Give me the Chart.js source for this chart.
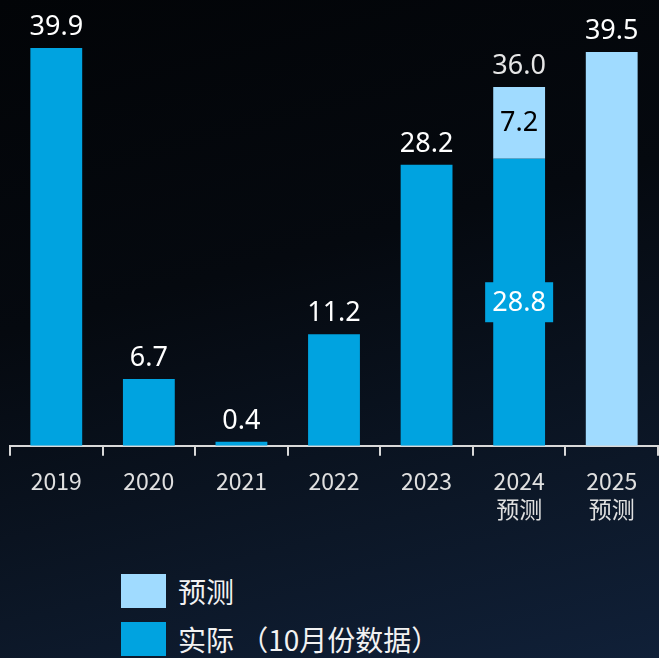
<!DOCTYPE html>
<html>
<head>
<meta charset="utf-8">
<script src="https://cdn.jsdelivr.net/npm/chart.js@4"></script>
<style>
  html, body { margin: 0; padding: 0; }
  body {
    width: 659px; height: 658px; overflow: hidden; position: relative;
    background: linear-gradient(165deg, #020407 0%, #05090f 40%, #0c1727 75%, #102038 100%);
    font-family: "Noto Sans CJK SC", "Noto Sans", sans-serif;
  }
  #wrap { position: absolute; left: 0; top: 0; width: 659px; height: 535px; }
  .legend { position: absolute; left: 121px; color: #f2f2f2; font-size: 28px; }
  .legend div { height: 48px; display: flex; align-items: center; }
  .legend span.box { display: inline-block; width: 45px; height: 34px; margin-right: 12px; }
</style>
</head>
<body>
<div id="wrap"><canvas id="chart"></canvas></div>
<div class="legend" style="top:567px">
  <div><span class="box" style="background:#a0dbff"></span>预测</div>
  <div><span class="box" style="background:#00a3e0"></span>实际 （10月份数据）</div>
</div>
<script>
const years = [['2019'], ['2020'], ['2021'], ['2022'], ['2023'], ['2024', '预测'], ['2025', '预测']];
const actual = [39.9, 6.7, 0.4, 11.2, 28.2, 28.8, null];
const forecast = [null, null, null, null, null, 7.2, 39.5];
const totals = ['39.9', '6.7', '0.4', '11.2', '28.2', '36.0', '39.5'];

const DARK = '#00a3e0', LIGHT = '#a0dbff';

const labelPlugin = {
  id: 'barLabels',
  afterDatasetsDraw(chart) {
    const ctx = chart.ctx;
    const a = chart.getDatasetMeta(0).data;
    const f = chart.getDatasetMeta(1).data;
    ctx.save();
    ctx.textAlign = 'center';
    ctx.font = '27px "Noto Sans", sans-serif';
    years.forEach((y, i) => {
      const hasA = actual[i] != null, hasF = forecast[i] != null;
      const top = hasF ? f[i] : a[i];
      // total above bar
      ctx.fillStyle = (hasA && hasF) ? '#e6e6e6' : '#ffffff';
      ctx.textBaseline = 'alphabetic';
      ctx.fillText(totals[i], top.x, top.y - 13);
      if (hasA && hasF) {
        // forecast segment value
        ctx.fillStyle = '#000000';
        ctx.textBaseline = 'middle';
        ctx.fillText(forecast[i].toFixed(1), f[i].x, (f[i].y + f[i].base) / 2 + 1);
        // actual segment value with box
        const cy = (a[i].y + a[i].base) / 2;
        ctx.fillStyle = DARK;
        ctx.fillRect(a[i].x - 34, cy - 20, 68, 40);
        ctx.fillStyle = '#ffffff';
        ctx.fillText(actual[i].toFixed(1), a[i].x, cy + 1);
      }
    });
    ctx.restore();
  }
};

new Chart(document.getElementById('chart'), {
  type: 'bar',
  data: {
    labels: years,
    datasets: [
      { label: '实际', data: actual, backgroundColor: DARK },
      { label: '预测', data: forecast, backgroundColor: LIGHT }
    ]
  },
  options: {
    responsive: true,
    maintainAspectRatio: false,
    animation: false,
    layout: { padding: { left: 10, right: 1, top: 47, bottom: 0 } },
    plugins: { legend: { display: false }, tooltip: { enabled: false } },
    datasets: { bar: { barPercentage: 0.56, categoryPercentage: 1 } },
    scales: {
      x: {
        stacked: true,
        grid: { display: true, drawOnChartArea: false, drawTicks: true, tickLength: 10, color: '#d9d9d9', lineWidth: 2, offset: true },
        border: { display: true, color: '#d9d9d9', width: 2 },
        ticks: { color: '#e0e0e0', font: { size: 23, family: '"Noto Sans CJK SC", sans-serif', lineHeight: 1.2 }, padding: 12, maxRotation: 0, autoSkip: false }
      },
      y: { stacked: true, display: false, min: 0, max: 40 }
    }
  },
  plugins: [labelPlugin]
});
</script>
</body>
</html>
